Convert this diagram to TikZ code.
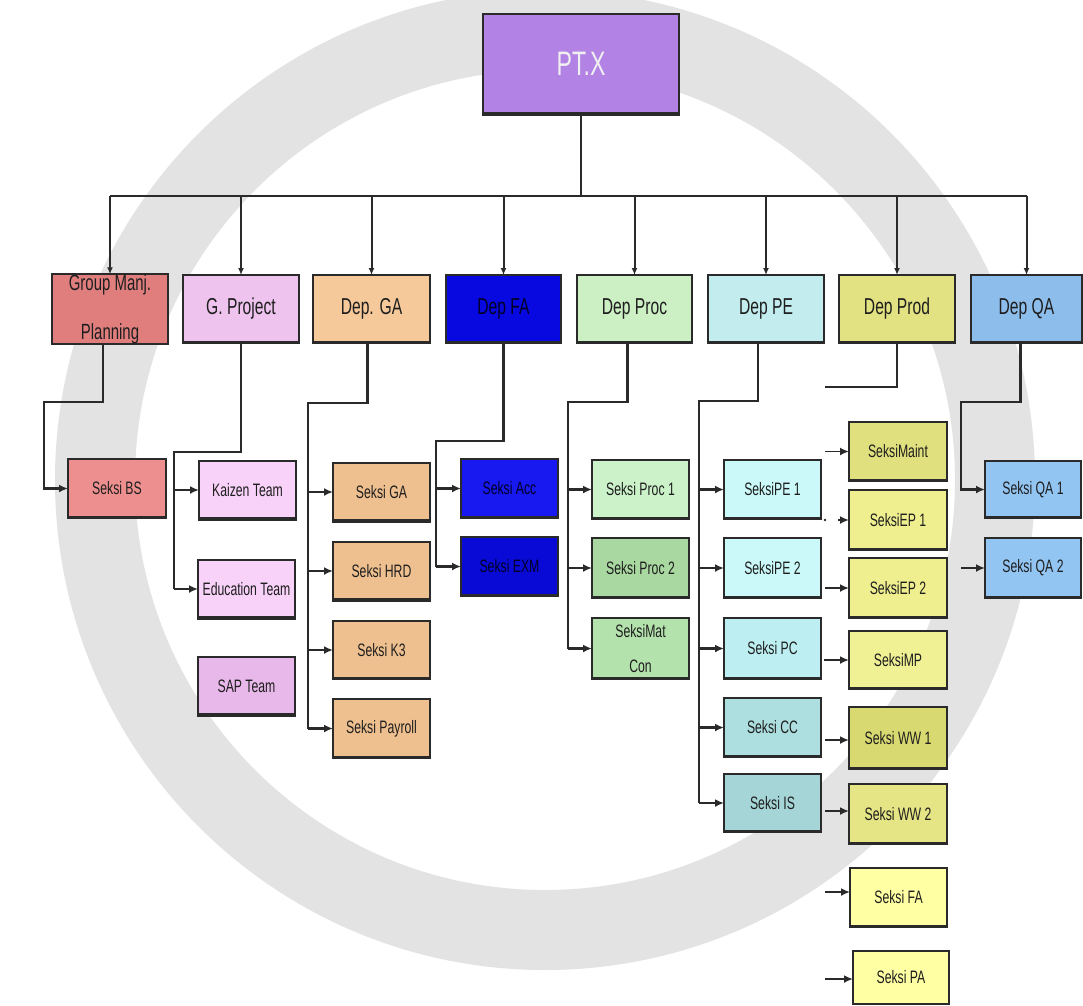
\documentclass[tikz,border=0pt]{standalone}
\usepackage{fontspec}
\newfontfamily\nar[FakeStretch=0.68]{Liberation Sans}
\usetikzlibrary{arrows.meta}
\definecolor{linec}{HTML}{2A2A2A}
\definecolor{txt}{HTML}{1E1E1E}
\definecolor{wmark}{HTML}{E3E3E3}
\definecolor{cptx}{HTML}{B283E4}
\definecolor{cgm}{HTML}{E07E7E}
\definecolor{cbs}{HTML}{EE8F8F}
\definecolor{cgp}{HTML}{EEC3EE}
\definecolor{cteam}{HTML}{F8D2F8}
\definecolor{csap}{HTML}{E9B8EA}
\definecolor{cga}{HTML}{F6C99A}
\definecolor{cgas}{HTML}{EFC08F}
\definecolor{cfa}{HTML}{0808E0}
\definecolor{cacc}{HTML}{1818F0}
\definecolor{cexm}{HTML}{0A0AD6}
\definecolor{cproc}{HTML}{CDEFC4}
\definecolor{cproca}{HTML}{CBF2C8}
\definecolor{cprocb}{HTML}{A9D9A1}
\definecolor{cmat}{HTML}{B4E2AC}
\definecolor{cpe}{HTML}{C2ECEE}
\definecolor{cpea}{HTML}{CBF8F8}
\definecolor{cpc}{HTML}{BDEFF2}
\definecolor{ccc}{HTML}{AEDFE0}
\definecolor{cis}{HTML}{A5D5D6}
\definecolor{cprod}{HTML}{E2E282}
\definecolor{cmaint}{HTML}{E0E07E}
\definecolor{cep}{HTML}{EFEF90}
\definecolor{cmp}{HTML}{F0F094}
\definecolor{cwwa}{HTML}{D9D972}
\definecolor{cwwb}{HTML}{E5E585}
\definecolor{clight}{HTML}{FFFFA3}
\definecolor{cqa}{HTML}{8DBDEB}
\definecolor{cqas}{HTML}{93C5F3}
\tikzset{
  box/.style={draw=linec, line width=2pt, inner sep=0pt, outer sep=0pt, text=txt, align=center,
    font=\nar\fontsize{18}{21}\selectfont},
  topbox/.style={box, minimum height=68pt, font=\nar\fontsize{23}{27}\selectfont},
  sub/.style={box, minimum width=97pt, minimum height=59pt},
  conn/.style={draw=linec, line width=2.3pt},
  arr/.style={conn, -{Latex[length=9pt,width=8pt]}},
  busarr/.style={draw=linec, line width=2pt, -{Latex[length=7pt,width=6pt]}},
  baseedge/.style={draw=linec, line width=3.2pt},
}
\begin{document}
\begin{tikzpicture}[x=1pt,y=-1pt]
\useasboundingbox (0,0) rectangle (1083,1005);
\fill[white] (0,0) rectangle (1083,1005);
% watermark (simplified)
\draw[wmark, line width=80pt] (545,480) circle[radius=450];
% top
\node[box, fill=cptx, minimum width=196pt, minimum height=101pt, text=white!94!black,
  font=\nar\fontsize{34}{40}\selectfont] (ptx) at (581,64) {PT.X};
% level 1
\node[topbox, fill=cgm, minimum width=116pt, font=\nar\fontsize{22}{49}\selectfont] (gm) at (110,309) {Group Manj.\\Planning};
\node[topbox, fill=cgp, minimum width=116pt] (gp) at (241,309) {G. Project};
\node[topbox, fill=cga, minimum width=117pt] (ga) at (371.5,309) {Dep. GA};
\node[topbox, fill=cfa, minimum width=115pt, text=black!85!blue] (fa) at (503.5,309) {Dep FA};
\node[topbox, fill=cproc, minimum width=115pt] (proc) at (634.5,309) {Dep Proc};
\node[topbox, fill=cpe, minimum width=116pt] (pe) at (766,309) {Dep PE};
\node[topbox, fill=cprod, minimum width=116pt] (prod) at (897,309) {Dep Prod};
\node[topbox, fill=cqa, minimum width=111pt] (qa) at (1026.5,309) {Dep QA};
% bus
\coordinate (bus) at (581,196);
\draw[conn, line width=2pt] (ptx.south) -- (bus);
\draw[conn, line width=2pt] (gm.north |- bus) -- (qa.north |- bus);
\foreach \n in {gm,gp,ga,fa,proc,pe,prod,qa}
  \draw[busarr] (\n.north |- bus) -- (\n.north);
% level 2
\node[sub, fill=cbs, minimum width=98pt] (bs) at (117,488.5) {Seksi BS};
\node[sub, fill=cteam] (kaizen) at (247.5,490) {Kaizen Team};
\node[sub, fill=cteam] (edu) at (246.5,589) {Education Team};
\node[sub, fill=csap] (sap) at (246.5,686) {SAP Team};
\node[sub, fill=cgas] (sga) at (381.5,492) {Seksi GA};
\node[sub, fill=cgas] (hrd) at (381.5,571) {Seksi HRD};
\node[sub, fill=cgas, minimum height=58pt] (k3) at (381.5,650) {Seksi K3};
\node[sub, fill=cgas] (payroll) at (381.5,728.5) {Seksi Payroll};
\node[sub, fill=cacc, text=black!85!blue] (acc) at (509.5,488.5) {Seksi Acc};
\node[sub, fill=cexm, text=black!85!blue] (exm) at (509.5,566.5) {Seksi EXM};
\node[sub, fill=cproca] (proca) at (640.5,489.5) {Seksi Proc 1};
\node[sub, fill=cprocb, minimum height=60pt] (procb) at (640.5,568) {Seksi Proc 2};
\node[sub, fill=cmat, minimum height=61pt, font=\nar\fontsize{18}{35}\selectfont] (mat) at (640.5,648.5) {SeksiMat\\Con};
\node[sub, fill=cpea] (pea) at (772.5,489.5) {SeksiPE 1};
\node[sub, fill=cpea, minimum height=60pt] (peb) at (772.5,568) {SeksiPE 2};
\node[sub, fill=cpc, minimum height=61pt] (pc) at (772.5,648.5) {Seksi PC};
\node[sub, fill=ccc] (cc) at (772.5,727.5) {Seksi CC};
\node[sub, fill=cis, minimum height=58pt] (is) at (772.5,803) {Seksi IS};
\node[sub, fill=cmaint, minimum width=98pt] (maint) at (898,451.5) {SeksiMaint};
\node[sub, fill=cep, minimum width=98pt, minimum height=60pt] (epa) at (898,520) {SeksiEP 1};
\node[sub, fill=cep, minimum width=98pt, minimum height=60pt] (epb) at (898,588) {SeksiEP 2};
\node[sub, fill=cmp, minimum width=98pt, minimum height=58pt] (mp) at (898,660) {SeksiMP};
\node[sub, fill=cwwa, minimum width=98pt, minimum height=62pt] (wwa) at (898,738) {Seksi WW 1};
\node[sub, fill=cwwb, minimum width=98pt, minimum height=60pt] (wwb) at (898,814) {Seksi WW 2};
\node[sub, fill=clight] (sfa) at (898.5,897.5) {Seksi FA};
\node[sub, fill=clight, minimum width=96pt, minimum height=53pt] (spa) at (901,977.5) {Seksi PA};
\node[sub, fill=cqas, minimum width=96pt, minimum height=57pt] (qaa) at (1033,489.5) {Seksi QA 1};
\node[sub, fill=cqas, minimum width=96pt, minimum height=60pt] (qab) at (1033,568) {Seksi QA 2};
% darker bottom edges
\foreach \n in {ptx,gp,ga,fa,proc,pe,prod,qa,bs,kaizen,edu,sap,sga,hrd,k3,payroll,acc,exm,proca,procb,mat,pea,peb,pc,cc,is,maint,epa,epb,mp,wwa,wwb,sfa,qaa,qab}
  \draw[baseedge] ([yshift=0.6pt]\n.south west) -- ([yshift=0.6pt]\n.south east);
% spines
\coordinate (gmv) at (44,402);
\coordinate (gpv) at (174,452);
\coordinate (gav) at (308,403);
\coordinate (fav) at (436,441);
\coordinate (procv) at (568,402);
\coordinate (pev) at (699,401);
\coordinate (prodv) at (825,387);
\coordinate (qav) at (961,402);
% Group Manj
\draw[arr] ([xshift=-7pt]gm.south) |- (gmv) |- (bs.west);
% G. Project
\draw[conn] (gp.south) |- (gpv) -- (gpv |- edu.west);
\foreach \n in {kaizen,edu} \draw[arr] (gpv |- \n.west) -- (\n.west);
% Dep GA
\draw[conn] ([xshift=-4pt]ga.south) |- (gav) -- (gav |- payroll.west);
\foreach \n in {sga,hrd,k3,payroll} \draw[arr] (gav |- \n.west) -- (\n.west);
% Dep FA
\draw[conn] (fa.south) |- (fav) -- (fav |- exm.west);
\foreach \n in {acc,exm} \draw[arr] (fav |- \n.west) -- (\n.west);
% Dep Proc
\draw[conn] ([xshift=-7pt]proc.south) |- (procv) -- (procv |- mat.west);
\foreach \n in {proca,procb,mat} \draw[arr] (procv |- \n.west) -- (\n.west);
% Dep PE
\draw[conn] ([xshift=-8pt]pe.south) |- (pev) -- (pev |- is.west);
\foreach \n in {pea,peb,pc,cc,is} \draw[arr] (pev |- \n.west) -- (\n.west);
% Dep Prod
\draw[conn] (prod.south) |- (prodv);
\coordinate (maintf) at (825,451.5);
\coordinate (epaf) at (838,520);
\coordinate (epadot) at (825,520);
\coordinate (epbf) at (825,588);
\coordinate (mpf) at (824,660);
\coordinate (wwaf) at (825,740);
\coordinate (wwbf) at (825,811);
\coordinate (sfaf) at (825,892);
\coordinate (spaf) at (825,979);
\draw[arr, line width=1.8pt] (maintf) -- (maint.west);
\fill[linec] (epadot) circle[radius=1.3];
\draw[arr] (epaf) -- (epa.west);
\draw[arr] (epbf) -- (epb.west);
\draw[arr] (mpf) -- (mp.west);
\draw[arr] (wwaf) -- (wwa.west |- wwaf);
\draw[arr] (wwbf) -- (wwb.west |- wwbf);
\draw[arr, line width=1.8pt] (sfaf) -- (sfa.west |- sfaf);
\draw[arr] (spaf) -- (spa.west |- spaf);
% Dep QA
\draw[arr] ([xshift=-6pt]qa.south) |- (qav) |- (qaa.west);
\coordinate (qabf) at (961,568);
\draw[arr] (qabf) -- (qab.west);
\end{tikzpicture}
\end{document}
